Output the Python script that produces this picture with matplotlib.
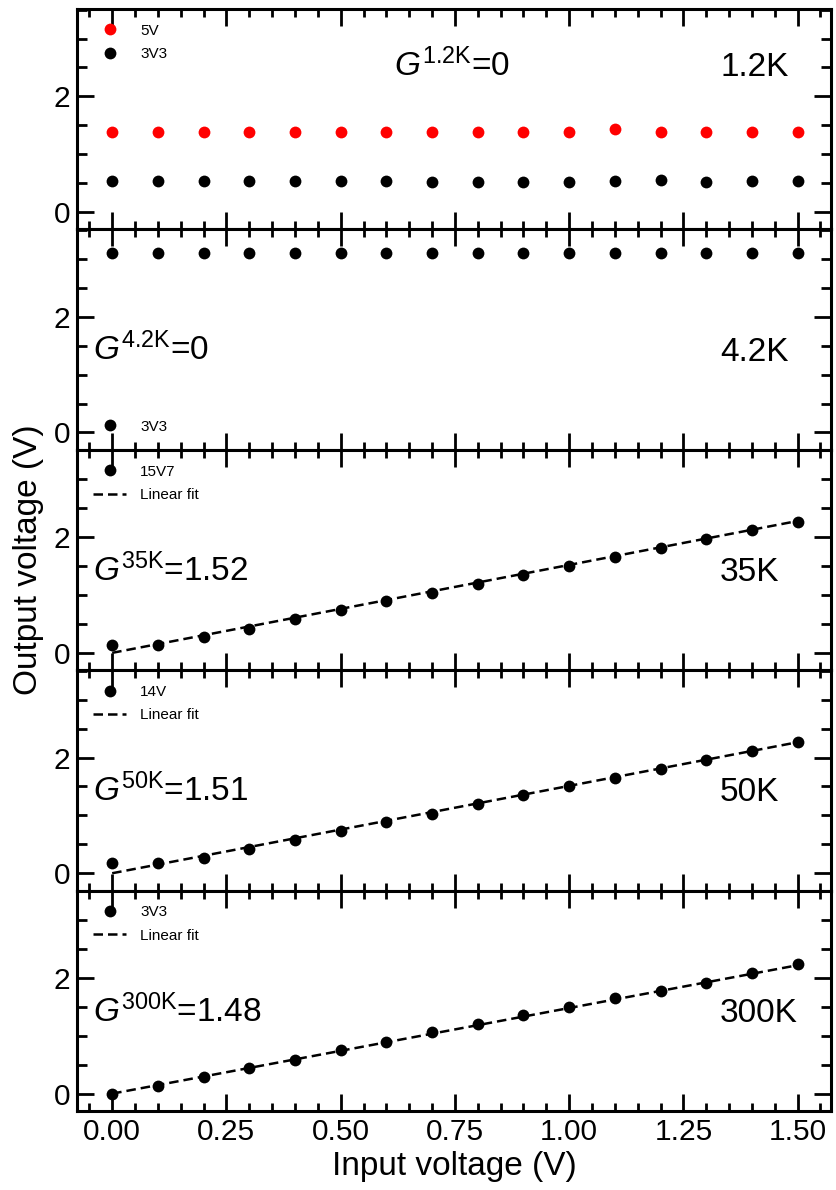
import matplotlib
matplotlib.use('Agg')
import matplotlib.pyplot as plt
import numpy as np
from matplotlib.ticker import MultipleLocator, FormatStrFormatter

plt.rcParams['font.family'] = ['Liberation Sans', 'DejaVu Sans']
plt.rcParams['mathtext.fontset'] = 'custom'
plt.rcParams['mathtext.rm'] = 'Liberation Sans'
plt.rcParams['mathtext.it'] = 'Liberation Sans:italic'

# ---------------- data ----------------
x_in = [0.0, 0.1, 0.2, 0.3, 0.4, 0.5, 0.6, 0.7, 0.8, 0.9, 1.0, 1.1, 1.2, 1.3, 1.4, 1.5]

v_1p2K_5V = [1.39, 1.39, 1.39, 1.39, 1.39, 1.39, 1.39, 1.39, 1.39, 1.39, 1.39, 1.44, 1.39, 1.39, 1.39, 1.39]
v_1p2K_3V3 = [0.54, 0.54, 0.54, 0.54, 0.54, 0.54, 0.53, 0.52, 0.52, 0.52, 0.52, 0.54, 0.56, 0.52, 0.53, 0.54]
v_4p2K_3V3 = [3.10] * 16
v_35K_15V7 = [0.14, 0.14, 0.28, 0.42, 0.58, 0.74, 0.90, 1.04, 1.19, 1.35, 1.50, 1.65, 1.81, 1.96, 2.12, 2.27]
v_50K_14V = [0.17, 0.17, 0.27, 0.42, 0.57, 0.73, 0.88, 1.03, 1.19, 1.35, 1.50, 1.65, 1.81, 1.96, 2.12, 2.27]
v_300K_3V3 = [0.00, 0.14, 0.29, 0.44, 0.59, 0.75, 0.89, 1.06, 1.20, 1.36, 1.50, 1.66, 1.78, 1.92, 2.08, 2.24]

temps = ['1.2K', '4.2K', '35K', '50K', '300K']
gains = ['0', '0', '1.52', '1.51', '1.48']
fit_gain = [None, None, 1.52, 1.51, 1.48]
fit_range = [0.0, 1.5]

series = [
    [('5V', v_1p2K_5V, 'red'), ('3V3', v_1p2K_3V3, 'black')],
    [('3V3', v_4p2K_3V3, 'black')],
    [('15V7', v_35K_15V7, 'black')],
    [('14V', v_50K_14V, 'black')],
    [('3V3', v_300K_3V3, 'black')],
]

x_ticks = [0.0, 0.25, 0.5, 0.75, 1.0, 1.25, 1.5]

# ---------------- figure ----------------
fig, axes = plt.subplots(5, 1, figsize=(8.36, 11.90), dpi=100, sharex=True,
                         gridspec_kw=dict(hspace=0))
fig.subplots_adjust(left=0.0921, right=0.994, top=0.9924, bottom=0.0664)

for i, ax in enumerate(axes):
    handles = []
    for label, vals, col in series[i]:
        h, = ax.plot(x_in, vals, 'o', color=col, markersize=8.5, markeredgewidth=0,
                     label=label, zorder=3)
        handles.append(h)
    if fit_gain[i] is not None:
        fx = np.array(fit_range)
        h, = ax.plot(fx, fit_gain[i] * fx, color='black', lw=1.8,
                     linestyle=(0, (3.8, 2.0)), label='Linear fit', zorder=2)
        handles.append(h)

    ax.set_xlim(-0.077, 1.573)
    ax.set_ylim(-0.30, 3.51)
    ax.xaxis.set_major_locator(plt.FixedLocator(x_ticks))
    ax.xaxis.set_minor_locator(MultipleLocator(0.05))
    ax.xaxis.set_major_formatter(FormatStrFormatter('%.2f'))
    ax.yaxis.set_major_locator(MultipleLocator(2))
    ax.yaxis.set_minor_locator(MultipleLocator(0.5))
    ax.tick_params(which='both', direction='in', top=True, right=True,
                   width=2.0, color='black', labelsize=21.5, pad=5)
    ax.tick_params(which='major', length=12.5)
    ax.tick_params(axis='x', which='minor', length=5.5)
    ax.tick_params(axis='y', which='minor', length=7)
    for sp in ax.spines.values():
        sp.set_linewidth(2.2)

    # annotations
    txt = '$G^{\\mathrm{' + temps[i] + '}}$=' + gains[i]
    if i == 0:
        ax.text(0.42, 0.695, txt, transform=ax.transAxes, fontsize=24,
                ha='left', va='baseline')
    else:
        ax.text(0.021, 0.405, txt, transform=ax.transAxes, fontsize=24,
                ha='left', va='baseline')
    ax.text(0.853, 0.405 if i else 0.695, temps[i], transform=ax.transAxes,
            fontsize=24, ha='left', va='baseline')

    # legends
    common = dict(frameon=False, fontsize=11, borderaxespad=0, borderpad=0,
                  handlelength=2.2, handletextpad=0.9, labelspacing=0.62,
                  numpoints=1)
    if i == 1:
        ax.legend(handles=handles, loc='lower left', bbox_to_anchor=(0.021, 0.073),
                  **common)
    else:
        ax.legend(handles=handles, loc='upper left', bbox_to_anchor=(0.021, 0.933),
                  **common)

axes[-1].set_xlabel('Input voltage (V)', fontsize=24, labelpad=4)
fig.text(0.034, (0.9924 + 0.0664) / 2, 'Output voltage (V)', rotation=90,
         fontsize=24, ha='center', va='center')

fig.savefig('out.png', dpi=100)
